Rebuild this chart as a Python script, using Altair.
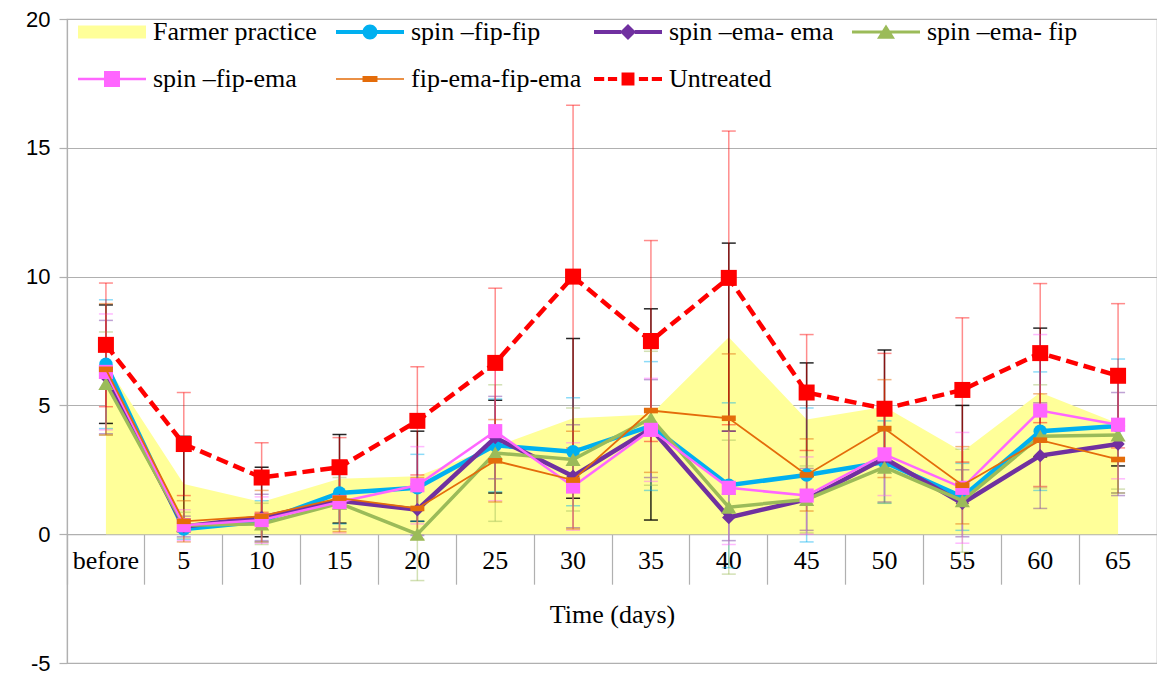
import altair as alt
import pandas as pd

days = ["before", "5", "10", "15", "20", "25", "30", "35", "40", "45", "50", "55", "60", "65"]
names = ["Farmer practice", "spin –fip-fip", "spin –ema- ema", "spin –ema- fip",
         "spin –fip-ema", "fip-ema-fip-ema", "Untreated"]

farmer = [6.6, 1.95, 1.25, 2.15, 2.25, 3.4, 4.5, 4.65, 7.65, 4.45, 4.95, 3.2, 5.5, 4.3]
farmer_err = [2.3, 1.85, 1.35, 1.72, 1.75, 1.8, 3.1, 4.1, 3.65, 2.2, 2.2, 1.8, 2.5, 1.65]
fipfip = [6.6, 0.2, 0.5, 1.6, 1.8, 3.45, 3.2, 4.2, 1.9, 2.3, 2.8, 1.45, 4.0, 4.2]
fipfip_err = [2.5, 0.4, 0.8, 1.2, 1.3, 1.8, 2.1, 2.5, 3.2, 2.6, 1.6, 1.3, 2.3, 2.6]
emaema = [6.1, 0.3, 0.65, 1.3, 0.95, 3.75, 2.25, 4.1, 0.65, 1.35, 2.95, 1.2, 3.05, 3.5]
emaema_err = [2.2, 0.4, 0.9, 1.1, 1.0, 1.6, 2.0, 1.9, 0.9, 1.2, 1.7, 1.3, 2.05, 2.0]
emafip = [5.85, 0.35, 0.4, 1.2, 0.0, 3.15, 2.9, 4.5, 1.05, 1.35, 2.6, 1.3, 3.8, 3.85]
emafip_err = [2.0, 0.5, 0.8, 1.0, 1.8, 2.65, 2.0, 2.6, 2.6, 1.3, 1.4, 2.0, 2.0, 2.1]
fipema = [6.3, 0.35, 0.55, 1.25, 1.9, 4.0, 1.85, 4.05, 1.8, 1.5, 3.1, 1.8, 4.8, 4.25]
fipema_err = [2.25, 0.6, 0.9, 1.2, 1.5, 2.7, 1.7, 2.0, 2.2, 1.5, 1.6, 2.15, 2.95, 2.1]
alt4 = [6.4, 0.5, 0.7, 1.4, 1.0, 2.85, 2.1, 4.8, 4.5, 2.3, 4.1, 1.9, 3.65, 2.9]
alt4_err = [2.55, 0.8, 1.0, 1.3, 1.2, 1.6, 1.9, 2.4, 2.5, 1.4, 1.9, 1.5, 1.8, 1.3]
untreated = [7.35, 3.5, 2.2, 2.6, 4.4, 6.65, 10.0, 7.5, 9.95, 5.5, 4.87, 5.6, 7.03, 6.15]
untreated_err = [2.4, 2.0, 1.35, 1.15, 2.1, 2.9, 6.65, 3.9, 5.7, 2.25, 2.15, 2.8, 2.7, 2.8]

colors = ["#FFFF99", "#00B0F0", "#7030A0", "#9BBB59", "#FF66FF", "#E46C0A", "#FF0000"]

all_vals = [farmer, fipfip, emaema, emafip, fipema, alt4, untreated]
all_errs = [farmer_err, fipfip_err, emaema_err, emafip_err, fipema_err, alt4_err, untreated_err]

rows = []
for nm, vals, errs in zip(names, all_vals, all_errs):
    for d, v, e in zip(days, vals, errs):
        rows.append({"day": d, "series": nm, "value": v,
                     "lo": round(v - e, 3), "hi": round(v + e, 3)})
df = pd.DataFrame(rows)

GRAY = "#B0B0B0"
SERIF = "Liberation Serif"
PLOT_H = 644
ZERO_OFFSET = -PLOT_H * 5 / 25

X_SCALE = alt.Scale(type="band", domain=days, paddingInner=0, paddingOuter=0)
Y_SCALE = alt.Scale(domain=[-5, 20], nice=False, zero=False)
Y_AXIS = alt.Axis(values=[-5, 0, 5, 10, 15, 20], grid=True, gridColor=GRAY, gridWidth=1.2,
                  domain=True, domainColor=GRAY, domainWidth=1.2, ticks=True,
                  tickColor=GRAY, tickSize=8, tickWidth=1.2,
                  labelExpr="datum.value < 0 ? '-' + abs(datum.value) : '' + datum.value",
                  labelFont="Liberation Sans", labelFontSize=22, labelColor="#000",
                  labelPadding=9, title=None)

AXIS_TICKS = alt.Axis(orient="bottom", offset=ZERO_OFFSET, bandPosition=0, ticks=True,
                      tickSize=50, tickColor=GRAY, tickWidth=1.2, labels=False, domain=True,
                      domainColor=GRAY, domainWidth=1.2, grid=False, title=None)
AXIS_LABELS = alt.Axis(orient="bottom", offset=ZERO_OFFSET, ticks=False, domain=False,
                       labels=True, labelFont=SERIF, labelFontSize=26, labelColor="#000",
                       labelAngle=0, labelPadding=13, grid=False, title="Time (days)",
                       titleFont=SERIF, titleFontSize=26, titleFontWeight="normal",
                       titleColor="#000", titlePadding=28)


def xenc(axis=None):
    if axis is None:
        return alt.X("day:N", scale=X_SCALE, axis=None)
    return alt.X("day:N", scale=X_SCALE, axis=axis)


def yenc(field):
    return alt.Y(field, scale=Y_SCALE, axis=Y_AXIS)


base = alt.Chart(df)


def sub(nm):
    return base.transform_filter(alt.datum.series == nm)


layers = []

# Farmer practice area
layers.append(
    sub("Farmer practice").mark_area(color="#FFFF99", opacity=1).encode(
        x=xenc(AXIS_TICKS), y=yenc("value:Q"), y2=alt.datum(0))
)

# error bars
err_style = {
    "Farmer practice": ("#000000", 0.85),
    "spin –fip-fip": ("#00B0F0", 0.45),
    "spin –ema- ema": ("#7030A0", 0.45),
    "spin –ema- fip": ("#9BBB59", 0.45),
    "spin –fip-ema": ("#FF66FF", 0.45),
    "fip-ema-fip-ema": ("#E46C0A", 0.5),
    "Untreated": ("#FF0000", 0.45),
}
for nm in names:
    c, op = err_style[nm]
    layers.append(
        sub(nm).mark_rule(color=c, opacity=op, strokeWidth=1.5).encode(
            x=xenc(), y=yenc("lo:Q"), y2="hi:Q")
    )
    layers.append(
        sub(nm).transform_fold(["lo", "hi"], as_=["k", "cap"])
        .mark_tick(color=c, opacity=op, thickness=1.5, size=14)
        .encode(x=xenc(), y=yenc("cap:Q"))
    )

# lines + markers
line_style = {
    "spin –fip-fip": dict(w=4.5, dash=None, shape="circle", size=180),
    "spin –ema- ema": dict(w=4.5, dash=None, shape="diamond", size=180),
    "spin –ema- fip": dict(w=3.5, dash=None, shape="triangle-up", size=230),
    "spin –fip-ema": dict(w=2.5, dash=None, shape="square", size=200),
    "fip-ema-fip-ema": dict(w=1.8, dash=None, shape="M-1,-0.4H1V0.4H-1Z", size=196),
    "Untreated": dict(w=4.5, dash=[12, 6], shape="square", size=256),
}
for nm, c in zip(names[1:], colors[1:]):
    st = line_style[nm]
    lkw = dict(color=c, strokeWidth=st["w"])
    if st["dash"]:
        lkw["strokeDash"] = st["dash"]
    layers.append(sub(nm).mark_line(**lkw).encode(x=xenc(), y=yenc("value:Q")))
    xa = AXIS_LABELS if nm == "Untreated" else None
    layers.append(
        sub(nm).mark_point(shape=st["shape"], size=st["size"], filled=True, color=c,
                           opacity=1, strokeWidth=0)
        .encode(x=xenc(xa), y=yenc("value:Q"))
    )

# legend symbols (line + marker), unit = half symbol width
paths = [
    "M-1,-0.19H1V0.19H-1Z",
    "M-1,-0.059H-0.2V0.059H-1Z M0.2,-0.059H1V0.059H0.2Z "
    "M0.22,0A0.22,0.22 0 1,1 -0.22,0A0.22,0.22 0 1,1 0.22,0Z",
    "M-1,-0.059H-0.2V0.059H-1Z M0.2,-0.059H1V0.059H0.2Z M0,-0.235L0.235,0L0,0.235L-0.235,0Z",
    "M-1,-0.044H1V0.044H-1Z M0,-0.22L0.265,0.2L-0.265,0.2Z",
    "M-1,-0.037H1V0.037H-1Z M-0.235,-0.235H0.235V0.235H-0.235Z",
    "M-1,-0.022H1V0.022H-1Z M-0.22,-0.088H0.22V0.088H-0.22Z",
    "M-1,-0.059H-0.7V0.059H-1Z M-0.59,-0.059H-0.32V0.059H-0.59Z "
    "M-0.19,-0.19H0.19V0.19H-0.19Z M0.32,-0.059H0.59V0.059H0.32Z M0.7,-0.059H1V0.059H0.7Z",
]

LEG = alt.Legend(title=None, orient="none", legendX=11, legendY=-21, columns=4,
                 direction="horizontal", gridAlign="all",
                 columnPadding=12, rowPadding=-3, symbolSize=4624, symbolStrokeWidth=0,
                 symbolOpacity=1, labelFont=SERIF, labelFontSize=26, labelColor="#000",
                 labelLimit=600, labelOffset=7, padding=0, symbolOffset=0)

leg_df = pd.DataFrame({"s": names})
layers.append(
    alt.Chart(leg_df).mark_point(filled=True, opacity=0).encode(
        color=alt.Color("s:N", scale=alt.Scale(domain=names, range=colors), legend=LEG),
        shape=alt.Shape("s:N", scale=alt.Scale(domain=names, range=paths), legend=LEG),
    )
)

chart = (
    alt.layer(*layers)
    .resolve_axis(x="independent")
    .properties(width=1090, height=PLOT_H,
                padding={"left": 59, "top": 11, "right": 0, "bottom": 11},
                autosize=alt.AutoSizeParams(type="none"))
    .configure_view(stroke=GRAY, strokeWidth=1.2)
)

chart.save("out.html", embed_options={"renderer": "svg", "actions": False})
